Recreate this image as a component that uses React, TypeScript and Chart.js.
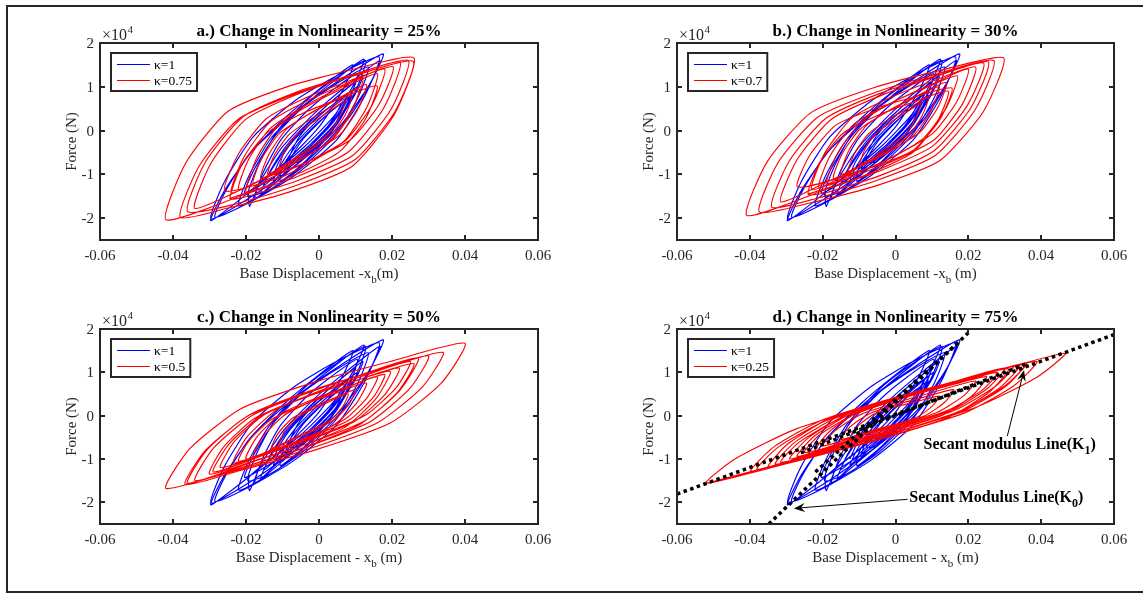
import React, { useEffect, useRef } from 'react';
import { Chart, registerables } from 'chart.js';

Chart.register(...registerables);

type Pt = [number, number];

const W = 1143;
const H = 594;

// Axis ticks
const xTicks = [-0.06, -0.04, -0.02, 0, 0.02, 0.04, 0.06];
const xTickLabels = ['-0.06', '-0.04', '-0.02', '0', '0.02', '0.04', '0.06'];
const yTicks = [-2, -1, 0, 1, 2];
const yTickLabels = ['-2', '-1', '0', '1', '2'];
const xRange = [-0.06, 0.06];
const yRange = [-2.5, 2]; // force in units of 10^4 N

// kappa = 1 (blue), same in every panel: displacement (m), force (x10^4 N)
const blueKappa1: Pt[] = [
  [-0.0125, -1.0], [-0.0109, -0.7], [-0.0074, -0.27], [-0.0023, 0.16], [0.0029, 0.53], [0.008, 0.85], [0.0064, 0.55], [0.0029, 0.12], [-0.0023, -0.31], [-0.0074, -0.68],
  [-0.015, -1.25], [-0.013, -0.87], [-0.0088, -0.33], [-0.0025, 0.22], [0.0038, 0.69], [0.01, 1.1], [0.008, 0.72], [0.0038, 0.18], [-0.0025, -0.37], [-0.0088, -0.84],
  [-0.0125, -1.15], [-0.0107, -0.81], [-0.0068, -0.33], [-0.001, 0.18], [0.0048, 0.61], [0.0105, 1.0], [0.0087, 0.66], [0.0048, 0.18], [-0.001, -0.33], [-0.0068, -0.76],
  [-0.0203, -1.43], [-0.0177, -0.88], [-0.0122, -0.14], [-0.004, 0.57], [0.0042, 1.14], [0.0123, 1.63], [0.0097, 1.08], [0.0042, 0.34], [-0.004, -0.37], [-0.0122, -0.94],
  [-0.0296, -2.06], [-0.0258, -1.36], [-0.0178, -0.42], [-0.006, 0.46], [0.0058, 1.16], [0.0176, 1.75], [0.0138, 1.05], [0.0058, 0.11], [-0.006, -0.77], [-0.0178, -1.47],
  [-0.0296, -2.02], [-0.0259, -1.17], [-0.0181, -0.15], [-0.0066, 0.68], [0.005, 1.26], [0.0165, 1.68], [0.0128, 0.83], [0.005, -0.2], [-0.0066, -1.02], [-0.0181, -1.6],
  [-0.0285, -1.98], [-0.0255, -1.37], [-0.0191, -0.54], [-0.0096, 0.27], [-0.0002, 0.93], [0.0093, 1.5], [0.0063, 0.89], [-0.0002, 0.06], [-0.0096, -0.75], [-0.0191, -1.41],
  [-0.019, -1.73], [-0.0161, -1.16], [-0.0101, -0.38], [-0.0012, 0.4], [0.0078, 1.04], [0.0167, 1.6], [0.0138, 1.03], [0.0078, 0.25], [-0.0012, -0.53], [-0.0101, -1.17],
  [-0.022, -1.72], [-0.0192, -1.03], [-0.0131, -0.17], [-0.0043, 0.55], [0.0046, 1.06], [0.0135, 1.45], [0.0107, 0.76], [0.0046, -0.1], [-0.0043, -0.82], [-0.0131, -1.33],
  [-0.0195, -1.5], [-0.0169, -0.84], [-0.0114, -0.01], [-0.0034, 0.69], [0.0047, 1.2], [0.0128, 1.6], [0.0102, 0.94], [0.0047, 0.11], [-0.0034, -0.59], [-0.0114, -1.1],
  [-0.016, -1.45], [-0.0138, -1.01], [-0.009, -0.4], [-0.002, 0.24], [0.005, 0.78], [0.012, 1.25], [0.0098, 0.81], [0.005, 0.2], [-0.002, -0.44], [-0.009, -0.98],
  [-0.0175, -1.55], [-0.0153, -0.96], [-0.0105, -0.22], [-0.0035, 0.43], [0.0035, 0.91], [0.0105, 1.3], [0.0083, 0.71], [0.0035, -0.03], [-0.0035, -0.68], [-0.0105, -1.16],
  [-0.0105, -0.95], [-0.0089, -0.67], [-0.0056, -0.28], [-0.0008, 0.14], [0.0041, 0.49], [0.009, 0.8], [0.0074, 0.52], [0.0041, 0.13], [-0.0008, -0.29], [-0.0056, -0.64],
  [-0.0095, -0.95], [-0.0081, -0.59], [-0.0053, -0.13], [-0.001, 0.27], [0.0033, 0.56], [0.0075, 0.8], [0.0061, 0.44], [0.0033, -0.02], [-0.001, -0.42], [-0.0053, -0.71],
  [-0.008, -0.72], [-0.0069, -0.51], [-0.0045, -0.21], [-0.001, 0.1], [0.0025, 0.38], [0.006, 0.62], [0.0049, 0.41], [0.0025, 0.11], [-0.001, -0.2], [-0.0045, -0.48], [-0.008, -0.72],
];

// kappa = 0.75 (panel a)
const redKappa075: Pt[] = [
  [-0.011, -0.85], [-0.0096, -0.5], [-0.0065, -0.13], [-0.002, 0.17], [0.0025, 0.42], [0.007, 0.65], [0.0056, 0.3], [0.0025, -0.08], [-0.002, -0.37], [-0.0065, -0.62],
  [-0.014, -1.0], [-0.0122, -0.56], [-0.0083, -0.1], [-0.0025, 0.25], [0.0033, 0.54], [0.009, 0.8], [0.0072, 0.36], [0.0033, -0.1], [-0.0025, -0.45], [-0.0083, -0.74],
  [-0.016, -1.1], [-0.0137, -0.54], [-0.0088, 0.04], [-0.0015, 0.44], [0.0058, 0.76], [0.013, 1.05], [0.0107, 0.49], [0.0058, -0.09], [-0.0015, -0.49], [-0.0088, -0.81],
  [-0.018, -1.2], [-0.0157, -0.64], [-0.0108, -0.06], [-0.0035, 0.34], [0.0038, 0.66], [0.011, 0.95], [0.0087, 0.39], [0.0038, -0.19], [-0.0035, -0.59], [-0.0108, -0.91],
  [-0.022, -1.35], [-0.0193, -0.66], [-0.0135, 0.04], [-0.005, 0.51], [0.0035, 0.88], [0.012, 1.2], [0.0093, 0.51], [0.0035, -0.19], [-0.005, -0.66], [-0.0135, -1.03],
  [-0.024, -1.42], [-0.0206, -0.61], [-0.0135, 0.19], [-0.003, 0.69], [0.0075, 1.07], [0.018, 1.4], [0.0146, 0.59], [0.0075, -0.21], [-0.003, -0.71], [-0.0135, -1.09],
  [-0.02, -1.4], [-0.0171, -0.63], [-0.011, 0.13], [-0.002, 0.61], [0.007, 0.98], [0.016, 1.3], [0.0131, 0.53], [0.007, -0.23], [-0.002, -0.71], [-0.011, -1.08],
  [-0.0258, -1.38], [-0.0221, -0.54], [-0.0143, 0.28], [-0.0028, 0.78], [0.0088, 1.15], [0.0203, 1.46], [0.0166, 0.62], [0.0088, -0.2], [-0.0028, -0.7], [-0.0143, -1.07],
  [-0.034, -1.78], [-0.0295, -0.73], [-0.02, 0.26], [-0.0059, 0.83], [0.0082, 1.23], [0.0222, 1.56], [0.0177, 0.51], [0.0082, -0.48], [-0.0059, -1.05], [-0.02, -1.45],
  [-0.0419, -2.04], [-0.0365, -0.74], [-0.0249, 0.44], [-0.008, 1.02], [0.009, 1.39], [0.026, 1.66], [0.0206, 0.36], [0.009, -0.82], [-0.008, -1.4], [-0.0249, -1.77],
  [-0.038, -1.98], [-0.0329, -0.82], [-0.0221, 0.26], [-0.0061, 0.85], [0.0099, 1.26], [0.0258, 1.58], [0.0207, 0.42], [0.0099, -0.66], [-0.0061, -1.25], [-0.0221, -1.66],
  [-0.036, -1.85], [-0.0312, -0.73], [-0.0209, 0.31], [-0.0058, 0.89], [0.0094, 1.28], [0.0245, 1.6], [0.0197, 0.48], [0.0094, -0.56], [-0.0058, -1.14], [-0.0209, -1.53],
  [-0.0244, -1.55], [-0.0212, -0.79], [-0.0143, -0.06], [-0.0043, 0.4], [0.0058, 0.73], [0.0159, 1.02], [0.0127, 0.26], [0.0058, -0.47], [-0.0043, -0.93], [-0.0143, -1.26], [-0.0244, -1.55],
];

// kappa = 0.7 (panel b)
const redKappa07: Pt[] = [
  [-0.01, -0.8], [-0.0086, -0.46], [-0.0058, -0.1], [-0.0015, 0.18], [0.0028, 0.41], [0.007, 0.62], [0.0056, 0.28], [0.0028, -0.09], [-0.0015, -0.36], [-0.0058, -0.59],
  [-0.013, -0.95], [-0.0112, -0.52], [-0.0075, -0.08], [-0.002, 0.25], [0.0035, 0.51], [0.009, 0.75], [0.0072, 0.32], [0.0035, -0.13], [-0.002, -0.45], [-0.0075, -0.71],
  [-0.015, -1.0], [-0.0127, -0.44], [-0.0078, 0.13], [-0.0005, 0.52], [0.0068, 0.83], [0.014, 1.1], [0.0117, 0.54], [0.0068, -0.03], [-0.0005, -0.42], [-0.0078, -0.73],
  [-0.017, -1.1], [-0.0147, -0.54], [-0.0098, 0.03], [-0.0025, 0.42], [0.0048, 0.73], [0.012, 1.0], [0.0097, 0.44], [0.0048, -0.13], [-0.0025, -0.52], [-0.0098, -0.83],
  [-0.021, -1.3], [-0.018, -0.58], [-0.0115, 0.14], [-0.002, 0.6], [0.0075, 0.95], [0.017, 1.25], [0.014, 0.53], [0.0075, -0.19], [-0.002, -0.65], [-0.0115, -1.0],
  [-0.023, -1.35], [-0.0194, -0.51], [-0.0118, 0.3], [-0.0005, 0.79], [0.0108, 1.15], [0.022, 1.45], [0.0184, 0.61], [0.0108, -0.2], [-0.0005, -0.69], [-0.0118, -1.05],
  [-0.019, -1.25], [-0.0159, -0.52], [-0.0093, 0.21], [0.0005, 0.7], [0.0103, 1.07], [0.02, 1.4], [0.0169, 0.67], [0.0103, -0.06], [0.0005, -0.55], [-0.0093, -0.92],
  [-0.0269, -1.29], [-0.0235, -0.56], [-0.0163, 0.13], [-0.0057, 0.5], [0.0049, 0.76], [0.0155, 0.97], [0.0121, 0.24], [0.0049, -0.45], [-0.0057, -0.82], [-0.0163, -1.08],
  [-0.0315, -1.63], [-0.027, -0.66], [-0.0176, 0.26], [-0.0037, 0.81], [0.0103, 1.21], [0.0242, 1.54], [0.0197, 0.57], [0.0103, -0.35], [-0.0037, -0.9], [-0.0176, -1.3],
  [-0.0408, -1.94], [-0.0352, -0.71], [-0.0232, 0.41], [-0.0056, 0.99], [0.0121, 1.37], [0.0297, 1.66], [0.0241, 0.43], [0.0121, -0.69], [-0.0056, -1.27], [-0.0232, -1.65],
  [-0.0374, -1.86], [-0.0323, -0.74], [-0.0213, 0.31], [-0.0052, 0.88], [0.0109, 1.28], [0.027, 1.6], [0.0219, 0.48], [0.0109, -0.57], [-0.0052, -1.14], [-0.0213, -1.54],
  [-0.034, -1.75], [-0.0292, -0.7], [-0.0191, 0.28], [-0.0043, 0.85], [0.0106, 1.24], [0.0255, 1.57], [0.0207, 0.52], [0.0106, -0.46], [-0.0043, -1.03], [-0.0191, -1.42],
  [-0.024, -1.45], [-0.0209, -0.74], [-0.0144, -0.06], [-0.0048, 0.35], [0.0049, 0.65], [0.0145, 0.9], [0.0114, 0.19], [0.0049, -0.49], [-0.0048, -0.9], [-0.0144, -1.2], [-0.024, -1.45],
];

// kappa = 0.5 (panel c)
const redKappa05: Pt[] = [
  [-0.011, -0.65], [-0.0095, -0.36], [-0.0063, -0.06], [-0.0015, 0.16], [0.0033, 0.34], [0.008, 0.5], [0.0065, 0.21], [0.0033, -0.09], [-0.0015, -0.31], [-0.0063, -0.49],
  [-0.013, -0.75], [-0.0112, -0.41], [-0.0073, -0.06], [-0.0015, 0.2], [0.0043, 0.41], [0.01, 0.6], [0.0082, 0.26], [0.0043, -0.09], [-0.0015, -0.35], [-0.0073, -0.56],
  [-0.018, -0.95], [-0.0153, -0.48], [-0.0095, 0.01], [-0.001, 0.37], [0.0075, 0.65], [0.016, 0.9], [0.0133, 0.43], [0.0075, -0.06], [-0.001, -0.42], [-0.0095, -0.7],
  [-0.02, -1.0], [-0.017, -0.49], [-0.0105, 0.04], [-0.001, 0.4], [0.0085, 0.69], [0.018, 0.95], [0.015, 0.44], [0.0085, -0.09], [-0.001, -0.45], [-0.0105, -0.74],
  [-0.022, -1.05], [-0.0192, -0.58], [-0.0133, -0.1], [-0.0045, 0.24], [0.0043, 0.51], [0.013, 0.75], [0.0102, 0.28], [0.0043, -0.2], [-0.0045, -0.54], [-0.0133, -0.81],
  [-0.0235, -1.09], [-0.0196, -0.48], [-0.0114, 0.15], [0.0008, 0.59], [0.0129, 0.94], [0.025, 1.25], [0.0211, 0.64], [0.0129, 0.02], [0.0008, -0.43], [-0.0114, -0.78],
  [-0.027, -1.2], [-0.0231, -0.59], [-0.0148, 0.03], [-0.0025, 0.46], [0.0098, 0.8], [0.022, 1.1], [0.0181, 0.49], [0.0098, -0.13], [-0.0025, -0.56], [-0.0148, -0.9],
  [-0.029, -1.3], [-0.0246, -0.65], [-0.0153, 0.03], [-0.0015, 0.5], [0.0123, 0.87], [0.026, 1.2], [0.0216, 0.55], [0.0123, -0.13], [-0.0015, -0.6], [-0.0153, -0.97],
  [-0.03, -1.35], [-0.026, -0.71], [-0.0176, -0.06], [-0.0053, 0.38], [0.0071, 0.72], [0.0195, 1.02], [0.0155, 0.38], [0.0071, -0.27], [-0.0053, -0.71], [-0.0176, -1.05],
  [-0.036, -1.56], [-0.0309, -0.81], [-0.0202, -0.04], [-0.0044, 0.51], [0.0114, 0.94], [0.0272, 1.33], [0.0221, 0.58], [0.0114, -0.19], [-0.0044, -0.74], [-0.0202, -1.17],
  [-0.034, -1.5], [-0.0289, -0.75], [-0.018, 0.02], [-0.002, 0.56], [0.014, 1.0], [0.03, 1.38], [0.0249, 0.63], [0.014, -0.14], [-0.002, -0.68], [-0.018, -1.12],
  [-0.0419, -1.68], [-0.0354, -0.76], [-0.0214, 0.16], [-0.001, 0.78], [0.0195, 1.25], [0.04, 1.67], [0.0335, 0.75], [0.0195, -0.17], [-0.001, -0.79], [-0.0214, -1.26],
  [-0.0367, -1.59], [-0.031, -0.79], [-0.019, 0.02], [-0.0014, 0.6], [0.0163, 1.05], [0.034, 1.46], [0.0283, 0.66], [0.0163, -0.15], [-0.0014, -0.73], [-0.019, -1.18], [-0.0367, -1.59],
];

// kappa = 0.25 (panel d)
const redKappa025: Pt[] = [
  [-0.012, -0.45], [-0.0101, -0.22], [-0.006, 0.03], [0.0, 0.2], [0.006, 0.33], [0.012, 0.45], [0.0101, 0.22], [0.006, -0.03], [0.0, -0.2], [-0.006, -0.33],
  [-0.015, -0.55], [-0.0125, -0.26], [-0.0073, 0.04], [0.0005, 0.26], [0.0083, 0.44], [0.016, 0.6], [0.0135, 0.31], [0.0083, 0.01], [0.0005, -0.21], [-0.0073, -0.39],
  [-0.02, -0.7], [-0.0166, -0.35], [-0.0095, 0.03], [0.001, 0.32], [0.0115, 0.57], [0.022, 0.8], [0.0186, 0.45], [0.0115, 0.08], [0.001, -0.22], [-0.0095, -0.47],
  [-0.022, -0.8], [-0.0182, -0.37], [-0.0103, 0.08], [0.0015, 0.4], [0.0133, 0.66], [0.025, 0.9], [0.0212, 0.47], [0.0133, 0.03], [0.0015, -0.3], [-0.0103, -0.56],
  [-0.025, -0.85], [-0.0208, -0.44], [-0.0118, 0.01], [0.0015, 0.39], [0.0148, 0.71], [0.028, 1.0], [0.0238, 0.59], [0.0148, 0.14], [0.0015, -0.24], [-0.0118, -0.56],
  [-0.027, -0.94], [-0.0224, -0.48], [-0.0128, 0.02], [0.0015, 0.43], [0.0158, 0.78], [0.03, 1.1], [0.0254, 0.64], [0.0158, 0.14], [0.0015, -0.27], [-0.0128, -0.62],
  [-0.029, -1.0], [-0.0238, -0.5], [-0.0129, 0.05], [0.0033, 0.48], [0.0194, 0.85], [0.0355, 1.18], [0.0303, 0.68], [0.0194, 0.14], [0.0033, -0.3], [-0.0129, -0.67],
  [-0.0315, -1.08], [-0.0264, -0.61], [-0.0156, -0.08], [0.0004, 0.38], [0.0164, 0.77], [0.0323, 1.13], [0.0272, 0.66], [0.0164, 0.13], [0.0004, -0.33], [-0.0156, -0.72],
  [-0.033, -1.12], [-0.0276, -0.61], [-0.0163, -0.05], [0.0005, 0.41], [0.0173, 0.79], [0.034, 1.15], [0.0286, 0.64], [0.0173, 0.08], [0.0005, -0.38], [-0.0163, -0.76],
  [-0.035, -1.2], [-0.0297, -0.66], [-0.0185, -0.08], [-0.002, 0.37], [0.0145, 0.74], [0.031, 1.08], [0.0257, 0.54], [0.0145, -0.04], [-0.002, -0.49], [-0.0185, -0.86],
  [-0.038, -1.24], [-0.0321, -0.72], [-0.0195, -0.13], [-0.001, 0.38], [0.0175, 0.81], [0.036, 1.21], [0.0301, 0.69], [0.0175, 0.1], [-0.001, -0.41], [-0.0195, -0.84],
  [-0.0397, -1.28], [-0.0334, -0.72], [-0.0201, -0.1], [-0.0005, 0.41], [0.0192, 0.85], [0.0388, 1.25], [0.0325, 0.69], [0.0192, 0.07], [-0.0005, -0.44], [-0.0201, -0.88],
  [-0.052, -1.56], [-0.0441, -1.0], [-0.0274, -0.31], [-0.0027, 0.33], [0.022, 0.9], [0.0466, 1.44], [0.0387, 0.88], [0.022, 0.19], [-0.0027, -0.45], [-0.0274, -1.02], [-0.052, -1.56],
];

// Secant modulus lines (panel d)
const secantK0: Pt[] = [[-0.0348, -2.5], [0.0202, 1.93]];
const secantK0b: Pt[] = [[-0.022, -1.3], [0.0176, 1.72]];
const secantK1: Pt[] = [[-0.06, -1.81], [0.06, 1.87]];
const secantK1b: Pt[] = [[-0.026, -0.86], [0.036, 1.2]];

// Annotation anchors (data coords, panel d)
const annK1Text: Pt = [0.0077, -0.77];
const annK1Arrow: Pt[] = [[0.0307, -0.47], [0.0353, 1.05]];
const annK0Text: Pt = [0.0038, -1.99];
const annK0Arrow: Pt[] = [[0.0033, -1.93], [-0.0279, -2.14]];

type Part = { t: string; sub?: boolean };

interface Panel {
  key: string;
  title: string;
  redLabel: string;
  red: Pt[];
  xLabel: Part[];
  area: { left: number; top: number; right: number; bottom: number };
  secant: boolean;
}

const panels: Panel[] = [
  {
    key: 'a', title: 'a.) Change in Nonlinearity = 25%', redLabel: 'κ=0.75', red: redKappa075,
    xLabel: [{ t: 'Base Displacement -x' }, { t: 'b', sub: true }, { t: '(m)' }],
    area: { left: 100, top: 43, right: 538, bottom: 240 }, secant: false,
  },
  {
    key: 'b', title: 'b.) Change in Nonlinearity = 30%', redLabel: 'κ=0.7', red: redKappa07,
    xLabel: [{ t: 'Base Displacement -x' }, { t: 'b', sub: true }, { t: ' (m)' }],
    area: { left: 677, top: 43, right: 1114, bottom: 240 }, secant: false,
  },
  {
    key: 'c', title: 'c.) Change in Nonlinearity = 50%', redLabel: 'κ=0.5', red: redKappa05,
    xLabel: [{ t: 'Base Displacement - x' }, { t: 'b', sub: true }, { t: ' (m)' }],
    area: { left: 100, top: 329, right: 538, bottom: 524 }, secant: false,
  },
  {
    key: 'd', title: 'd.) Change in Nonlinearity = 75%', redLabel: 'κ=0.25', red: redKappa025,
    xLabel: [{ t: 'Base Displacement - x' }, { t: 'b', sub: true }, { t: ' (m)' }],
    area: { left: 677, top: 329, right: 1114, bottom: 524 }, secant: true,
  },
];

const FONT = '"Liberation Serif", "Times New Roman", serif';
const AXIS_COLOR = '#262626';
const TEXT_COLOR = '#262626';
const BLUE = '#0000ff';
const RED = '#ff0000';

function drawRich(ctx: CanvasRenderingContext2D, parts: Part[], x: number, y: number, size: number, bold: boolean, align: 'left' | 'center') {
  const base = `${bold ? 'bold ' : ''}${size}px ${FONT}`;
  const sub = `${bold ? 'bold ' : ''}${Math.round(size * 0.72)}px ${FONT}`;
  let total = 0;
  const widths = parts.map((p) => {
    ctx.font = p.sub ? sub : base;
    const w = ctx.measureText(p.t).width;
    total += w;
    return w;
  });
  let cx = align === 'center' ? x - total / 2 : x;
  ctx.textAlign = 'left';
  ctx.textBaseline = 'alphabetic';
  parts.forEach((p, i) => {
    ctx.font = p.sub ? sub : base;
    ctx.fillText(p.t, cx, p.sub ? y + size * 0.3 : y);
    cx += widths[i];
  });
}

function drawArrow(ctx: CanvasRenderingContext2D, x0: number, y0: number, x1: number, y1: number) {
  const ang = Math.atan2(y1 - y0, x1 - x0);
  const len = 11;
  const half = 4.5;
  ctx.beginPath();
  ctx.moveTo(x0, y0);
  ctx.lineTo(x1 - Math.cos(ang) * 4, y1 - Math.sin(ang) * 4);
  ctx.stroke();
  const bx = x1 - Math.cos(ang) * len;
  const by = y1 - Math.sin(ang) * len;
  const nx = x1 - Math.cos(ang) * len * 0.65;
  const ny = y1 - Math.sin(ang) * len * 0.65;
  const px = -Math.sin(ang) * half;
  const py = Math.cos(ang) * half;
  ctx.beginPath();
  ctx.moveTo(x1, y1);
  ctx.lineTo(bx + px, by + py);
  ctx.lineTo(nx, ny);
  ctx.lineTo(bx - px, by - py);
  ctx.closePath();
  ctx.fill();
}

function makeOverlay(p: Panel) {
  return {
    id: 'overlay_' + p.key,
    afterDraw(chart: any) {
      const ctx: CanvasRenderingContext2D = chart.ctx;
      const ca = chart.chartArea;
      const xs = chart.scales.x;
      const ys = chart.scales.y;
      ctx.save();

      // legend box
      ctx.font = `13.5px ${FONT}`;
      const tw = Math.max(ctx.measureText('κ=1').width, ctx.measureText(p.redLabel).width);
      const lx = ca.left + 11;
      const ly = ca.top + 10;
      const lw = 43 + tw + 5;
      const lh = 38;
      ctx.fillStyle = '#ffffff';
      ctx.fillRect(lx, ly, lw, lh);
      ctx.strokeStyle = AXIS_COLOR;
      ctx.lineWidth = 2;
      ctx.strokeRect(lx, ly, lw, lh);
      ctx.lineWidth = 1.1;
      ctx.strokeStyle = BLUE;
      ctx.beginPath();
      ctx.moveTo(lx + 6, ly + 11.5);
      ctx.lineTo(lx + 39, ly + 11.5);
      ctx.stroke();
      ctx.strokeStyle = RED;
      ctx.beginPath();
      ctx.moveTo(lx + 6, ly + 27.5);
      ctx.lineTo(lx + 39, ly + 27.5);
      ctx.stroke();
      ctx.fillStyle = '#000000';
      ctx.textAlign = 'left';
      ctx.textBaseline = 'alphabetic';
      ctx.fillText('κ=1', lx + 43, ly + 16);
      ctx.fillText(p.redLabel, lx + 43, ly + 32);

      // axes box
      ctx.strokeStyle = AXIS_COLOR;
      ctx.lineWidth = 2;
      ctx.strokeRect(ca.left, ca.top, ca.right - ca.left, ca.bottom - ca.top);
      // inward ticks on all sides
      const TL = 5;
      ctx.lineWidth = 2;
      ctx.beginPath();
      xTicks.forEach((v) => {
        const px = Math.round(xs.getPixelForValue(v));
        ctx.moveTo(px, ca.bottom);
        ctx.lineTo(px, ca.bottom - TL);
        ctx.moveTo(px, ca.top);
        ctx.lineTo(px, ca.top + TL);
      });
      yTicks.forEach((v) => {
        const py = Math.round(ys.getPixelForValue(v));
        ctx.moveTo(ca.left, py);
        ctx.lineTo(ca.left + TL, py);
        ctx.moveTo(ca.right, py);
        ctx.lineTo(ca.right - TL, py);
      });
      ctx.stroke();

      // tick labels
      ctx.fillStyle = TEXT_COLOR;
      ctx.font = `15px ${FONT}`;
      ctx.textAlign = 'center';
      ctx.textBaseline = 'alphabetic';
      xTicks.forEach((v, i) => {
        ctx.fillText(xTickLabels[i], xs.getPixelForValue(v), ca.bottom + 20);
      });
      ctx.textAlign = 'right';
      yTicks.forEach((v, i) => {
        ctx.fillText(yTickLabels[i], ca.left - 6, ys.getPixelForValue(v) + 5);
      });

      // exponent
      ctx.textAlign = 'left';
      ctx.font = `16px ${FONT}`;
      ctx.fillText('×10', ca.left + 2, ca.top - 3.5);
      const ew = ctx.measureText('×10').width;
      ctx.font = `11px ${FONT}`;
      ctx.fillText('4', ca.left + 2 + ew + 0.5, ca.top - 10.5);

      // axis labels
      drawRich(ctx, p.xLabel, (ca.left + ca.right) / 2, ca.bottom + 38, 15, false, 'center');
      ctx.save();
      ctx.translate(ca.left - 24, (ca.top + ca.bottom) / 2);
      ctx.rotate(-Math.PI / 2);
      ctx.font = `15px ${FONT}`;
      ctx.textAlign = 'center';
      ctx.textBaseline = 'alphabetic';
      ctx.fillText('Force (N)', 0, 0);
      ctx.restore();

      // title
      ctx.fillStyle = '#000000';
      ctx.font = `bold 17px ${FONT}`;
      ctx.textAlign = 'center';
      ctx.textBaseline = 'alphabetic';
      ctx.fillText(p.title, (ca.left + ca.right) / 2, ca.top - 7);

      // annotations
      if (p.secant) {
        ctx.fillStyle = '#000000';
        ctx.strokeStyle = '#000000';
        ctx.lineWidth = 1;
        drawArrow(ctx, xs.getPixelForValue(annK1Arrow[0][0]), ys.getPixelForValue(annK1Arrow[0][1]),
          xs.getPixelForValue(annK1Arrow[1][0]), ys.getPixelForValue(annK1Arrow[1][1]));
        drawArrow(ctx, xs.getPixelForValue(annK0Arrow[0][0]), ys.getPixelForValue(annK0Arrow[0][1]),
          xs.getPixelForValue(annK0Arrow[1][0]), ys.getPixelForValue(annK0Arrow[1][1]));
        drawRich(ctx, [{ t: 'Secant modulus Line(K' }, { t: '1', sub: true }, { t: ')' }],
          xs.getPixelForValue(annK1Text[0]), ys.getPixelForValue(annK1Text[1]), 16, true, 'left');
        drawRich(ctx, [{ t: 'Secant Modulus Line(K' }, { t: '0', sub: true }, { t: ')' }],
          xs.getPixelForValue(annK0Text[0]), ys.getPixelForValue(annK0Text[1]), 16, true, 'left');
      }
      ctx.restore();
    },
  };
}

const toXY = (pts: Pt[]) => pts.map(([x, y]) => ({ x, y }));

function PanelChart({ p }: { p: Panel }) {
  const ref = useRef<HTMLCanvasElement | null>(null);
  useEffect(() => {
    if (!ref.current) return;
    const lineDs = (data: Pt[], color: string, order: number) => ({
      data: toXY(data),
      borderColor: color,
      backgroundColor: color,
      borderWidth: 1.15,
      showLine: true,
      pointRadius: 0,
      tension: 0.2,
      order,
    });
    const dotted = (data: Pt[]) => ({
      data: toXY(data),
      borderColor: '#000000',
      backgroundColor: '#000000',
      borderWidth: 3.5,
      borderDash: [3.5, 3.5],
      borderCapStyle: 'butt',
      showLine: true,
      pointRadius: 0,
      tension: 0,
      order: 0,
    });
    const datasets: any[] = [lineDs(blueKappa1, BLUE, 2), lineDs(p.red, RED, 1)];
    if (p.secant) {
      datasets.push(dotted(secantK0), dotted(secantK0b), dotted(secantK1), dotted(secantK1b));
    }
    const chart = new Chart(ref.current, {
      type: 'scatter',
      data: { datasets },
      options: {
        animation: false,
        responsive: false,
        maintainAspectRatio: false,
        devicePixelRatio: 1,
        events: [],
        layout: {
          padding: {
            left: p.area.left,
            top: p.area.top,
            right: W - p.area.right,
            bottom: H - p.area.bottom,
          },
        },
        plugins: {
          legend: { display: false },
          title: { display: false },
          tooltip: { enabled: false },
        },
        scales: {
          x: { type: 'linear', display: false, min: xRange[0], max: xRange[1] },
          y: { type: 'linear', display: false, min: yRange[0], max: yRange[1] },
        },
      } as any,
      plugins: [makeOverlay(p)],
    });
    return () => chart.destroy();
  }, [p]);
  return (
    <canvas
      ref={ref}
      width={W}
      height={H}
      style={{ position: 'absolute', left: 0, top: 0, width: W, height: H }}
    />
  );
}

export default function App() {
  return (
    <div style={{ position: 'fixed', left: 0, top: 0, width: W, height: H, background: '#ffffff', overflow: 'hidden' }}>
      <div
        style={{
          position: 'absolute', left: 6, top: 5, width: 1150, height: 588,
          border: '2px solid #262626', boxSizing: 'border-box',
        }}
      />
      {panels.map((p) => (
        <PanelChart key={p.key} p={p} />
      ))}
    </div>
  );
}
